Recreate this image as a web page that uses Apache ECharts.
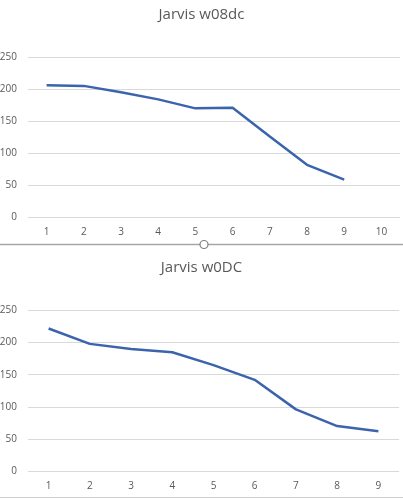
<!DOCTYPE html>
<html>
<head>
<meta charset="utf-8">
<script src="https://cdn.jsdelivr.net/npm/echarts@6/dist/echarts.min.js"></script>
<style>
  html, body { margin: 0; padding: 0; background: #fff; }
  #main { width: 403px; height: 499px; }
</style>
</head>
<body>
<div id="main"></div>
<script>
// top chart: Jarvis w08dc
const topTitle = 'Jarvis w08dc';
const topCategories = ['1', '2', '3', '4', '5', '6', '7', '8', '9', '10'];
const topValues = [206, 205, 195, 184, 170, 171, 126, 82, 59];

// bottom chart: Jarvis w0DC
const bottomTitle = 'Jarvis w0DC';
const bottomCategories = ['1', '2', '3', '4', '5', '6', '7', '8', '9'];
const bottomValues = [222, 198, 190, 185, 165, 142, 96, 70, 62];

const yTicks = { min: 0, max: 250, interval: 50 };

const textColor = '#595959';
const gridColor = '#d9d9d9';
const lineColor = '#3b64ad';
const font = 'Open Sans';

const chart = echarts.init(document.getElementById('main'));

function xAxis(idx, data) {
  return {
    type: 'category',
    gridIndex: idx,
    data: data,
    boundaryGap: true,
    axisLine: { show: false },
    axisTick: { show: false },
    axisLabel: { color: textColor, fontSize: 10, fontFamily: font, margin: 10 }
  };
}

function yAxis(idx) {
  return {
    type: 'value',
    gridIndex: idx,
    min: yTicks.min,
    max: yTicks.max,
    interval: yTicks.interval,
    axisLine: { show: false },
    axisTick: { show: false },
    axisLabel: { color: textColor, fontSize: 10, fontFamily: font, margin: 11 },
    splitLine: { lineStyle: { color: gridColor, width: 1 } }
  };
}

function lineSeries(idx, data) {
  return {
    type: 'line',
    xAxisIndex: idx,
    yAxisIndex: idx,
    data: data,
    symbol: 'none',
    lineStyle: { color: lineColor, width: 2.5 },
    itemStyle: { color: lineColor }
  };
}

chart.setOption({
  animation: false,
  title: [
    { text: topTitle, left: 'center', top: 2, textStyle: { color: textColor, fontSize: 15, fontWeight: 'normal', fontFamily: font } },
    { text: bottomTitle, left: 'center', top: 255, textStyle: { color: textColor, fontSize: 15, fontWeight: 'normal', fontFamily: font } }
  ],
  grid: [
    { left: 28, right: 3, top: 57, height: 160.5, outerBoundsMode: 'none' },
    { left: 28, right: 4, top: 310.5, height: 160.5, outerBoundsMode: 'none' }
  ],
  xAxis: [xAxis(0, topCategories), xAxis(1, bottomCategories)],
  yAxis: [yAxis(0), yAxis(1)],
  series: [lineSeries(0, topValues), lineSeries(1, bottomValues)],
  graphic: [
    { type: 'line', shape: { x1: 0, y1: 244.5, x2: 403, y2: 244.5 }, style: { stroke: '#a6a6a6', lineWidth: 1.5 } },
    { type: 'circle', shape: { cx: 204, cy: 244.5, r: 4 }, style: { fill: '#fff', stroke: '#7f7f7f', lineWidth: 1.2 } },
    { type: 'line', shape: { x1: 0, y1: 497.5, x2: 403, y2: 497.5 }, style: { stroke: '#d0d0d0', lineWidth: 1 } }
  ]
});
</script>
</body>
</html>
